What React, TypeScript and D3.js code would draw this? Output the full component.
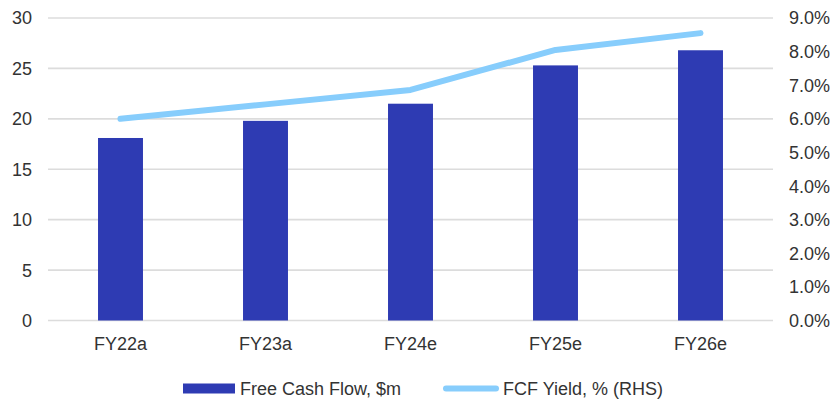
import React from "react";
import * as d3 from "d3";

const categories = ["FY22a", "FY23a", "FY24e", "FY25e", "FY26e"];
const freeCashFlow = [18.1, 19.8, 21.5, 25.3, 26.8];
const fcfYield = [6.0, 6.43, 6.86, 8.05, 8.55];
const leftTicks = [0, 5, 10, 15, 20, 25, 30];
const rightTicks = [0, 1, 2, 3, 4, 5, 6, 7, 8, 9];

const BAR_COLOR = "#2E3BB3";
const LINE_COLOR = "#87CDFC";
const FONT = "'Liberation Sans', Arial, sans-serif";

export default function App() {
  const width = 832;
  const height = 400;
  const margin = { left: 48, right: 59, top: 18, bottom: 79.5 };
  const innerW = width - margin.left - margin.right;
  const innerH = height - margin.top - margin.bottom;

  const x = d3.scaleBand().domain(categories).range([0, innerW]).padding(0);
  const yL = d3.scaleLinear().domain([0, 30]).range([innerH, 0]);
  const yR = d3.scaleLinear().domain([0, 9]).range([innerH, 0]);
  const barW = x.bandwidth() * 0.31;

  const line = d3
    .line<number>()
    .x((_, i) => x(categories[i])! + x.bandwidth() / 2)
    .y((d) => yR(d));

  return (
    <svg width={width} height={height} style={{ position: "absolute", left: 0, top: 0, fontFamily: FONT }}>
      <g transform={`translate(${margin.left},${margin.top})`}>
        {leftTicks.map((t) => (
          <line key={t} x1={0} x2={innerW} y1={yL(t)} y2={yL(t)} stroke="#dcdcdc" strokeWidth={1.6} />
        ))}
        {leftTicks.map((t) => (
          <text key={"l" + t} x={-16} y={yL(t)} dy="0.36em" textAnchor="end" fontSize={18} fill="#333">
            {t}
          </text>
        ))}
        {rightTicks.map((t) => (
          <text key={"r" + t} x={innerW + 16} y={yR(t)} dy="0.36em" textAnchor="start" fontSize={18} fill="#333">
            {d3.format(".1f")(t)}%
          </text>
        ))}
        {freeCashFlow.map((v, i) => (
          <rect
            key={categories[i]}
            x={x(categories[i])! + (x.bandwidth() - barW) / 2}
            y={yL(v)}
            width={barW}
            height={innerH - yL(v)}
            fill={BAR_COLOR}
          />
        ))}
        <path d={line(fcfYield)!} fill="none" stroke={LINE_COLOR} strokeWidth={6} strokeLinecap="round" strokeLinejoin="round" />
        {categories.map((c) => (
          <text key={c} x={x(c)! + x.bandwidth() / 2} y={innerH + 29} textAnchor="middle" fontSize={18} fill="#333">
            {c}
          </text>
        ))}
      </g>
      <g>
        <rect x={183} y={383.5} width={52} height={10} fill={BAR_COLOR} />
        <text x={240} y={395} fontSize={18} fill="#333">Free Cash Flow, $m</text>
        <line x1={446} x2={496} y1={388.5} y2={388.5} stroke={LINE_COLOR} strokeWidth={6} strokeLinecap="round" />
        <text x={503} y={395} fontSize={18} fill="#333">FCF Yield, % (RHS)</text>
      </g>
    </svg>
  );
}
